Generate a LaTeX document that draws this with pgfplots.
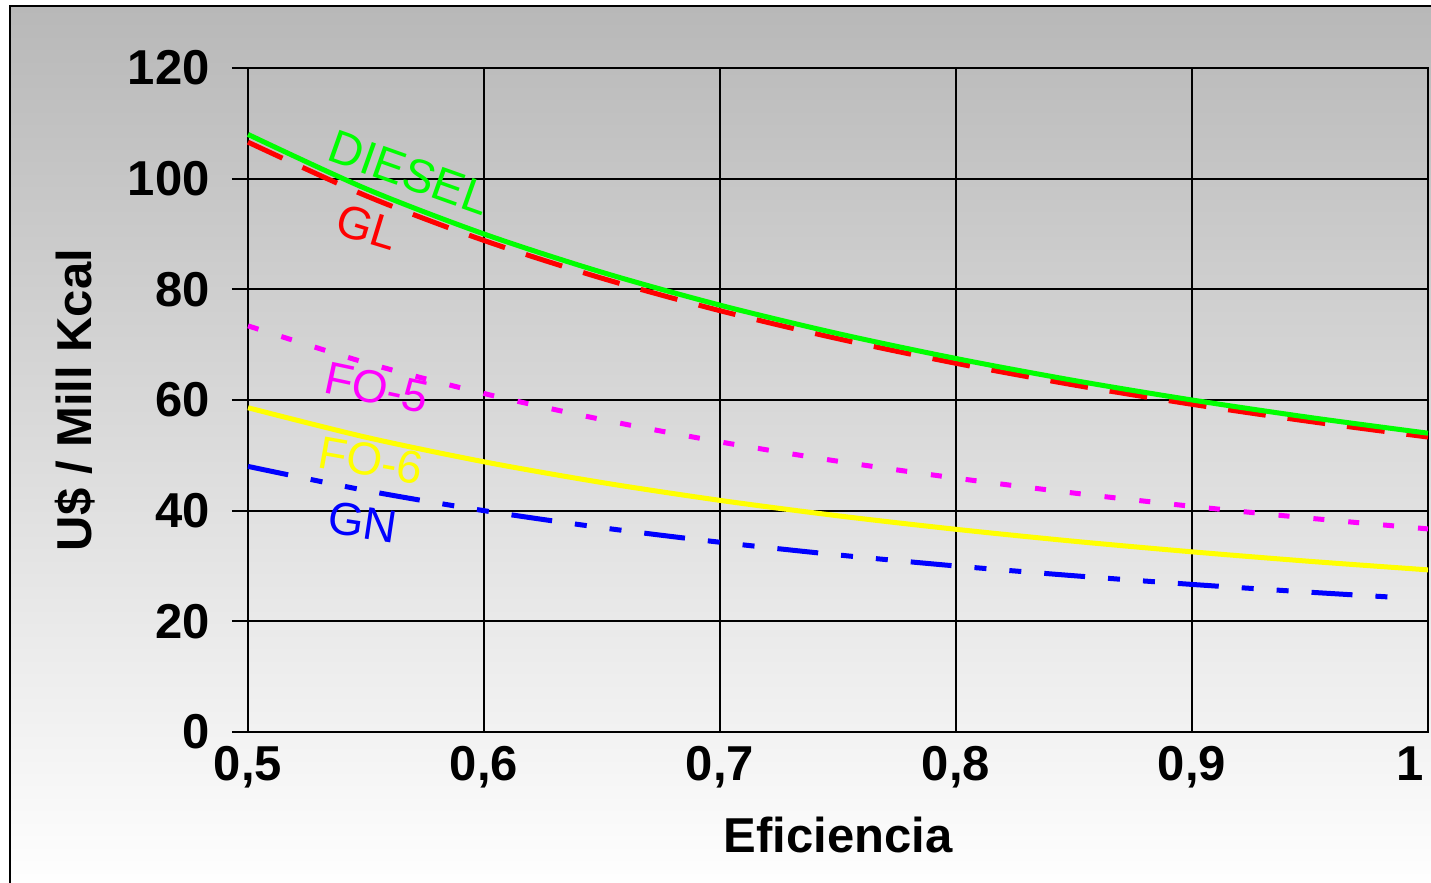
\documentclass[border=0pt]{standalone}
\usepackage{pgfplots}
\pgfplotsset{compat=1.18}
\usepackage{fontspec}
\setmainfont{Liberation Sans}
\definecolor{bgtop}{RGB}{184,184,184}
\definecolor{cgreen}{RGB}{0,255,0}
\definecolor{cred}{RGB}{255,0,0}
\definecolor{cmag}{RGB}{255,0,255}
\definecolor{cyel}{RGB}{255,255,0}
\definecolor{cblue}{RGB}{0,0,255}
\begin{document}
\begin{tikzpicture}
\useasboundingbox (-124pt,-75.5pt) rectangle (591.5pt,366pt);
\begin{scope}
\clip (-124pt,-75.5pt) rectangle (591.5pt,366pt);
\shade[top color=bgtop, bottom color=white] (-119pt,-80pt) rectangle (597pt,363pt);
\draw[black, line width=1pt] (-119pt,-80pt) -- (-119pt,363pt) -- (597pt,363pt);
\end{scope}
\begin{axis}[
  at={(0,0)}, anchor=south west,
  scale only axis, width=590pt, height=332pt,
  xmin=0.5, xmax=1, ymin=0, ymax=120,
  xtick={0.5,0.6,0.7,0.8,0.9}, ytick={0,20,40,60,80,100,120},
  extra x ticks={1}, extra x tick labels={1},
  extra x tick style={xticklabel style={xshift=-9pt}},
  xtick pos=bottom, ytick pos=left,
  tick align=outside, major tick length=8pt,
  xtick style={draw=none},
  ytick style={black, line width=1pt},
  grid=major, major grid style={black, line width=1pt},
  axis line style={black, line width=1.2pt},
  /pgf/number format/assume math mode=true,
  /pgf/number format/use comma,
  ticklabel style={font=\bfseries\fontsize{24.5}{29}\selectfont, inner sep=0pt},
  yticklabel style={anchor=east, xshift=-11pt},
  xticklabel style={anchor=north, yshift=1pt},
  xlabel={Eficiencia}, ylabel={U\$ / Mill Kcal},
  label style={font=\bfseries\fontsize{24.5}{29}\selectfont, inner sep=0pt},
  xlabel style={at={(axis description cs:0.5,0)}, anchor=base, yshift=-60.5pt},
  ylabel style={at={(axis description cs:-0.1322,0.5)}, anchor=base},
  clip=false,
]
\addplot[cred, line width=2.5pt, smooth, dash pattern=on 19pt off 11pt] coordinates {
(0.50,106.60) (0.55,96.91) (0.60,88.83) (0.65,82.00) (0.70,76.14) (0.75,71.07)
(0.80,66.63) (0.85,62.71) (0.90,59.22) (0.95,56.11) (1.00,53.30)};
\addplot[cgreen, line width=2.5pt, smooth] coordinates {
(0.50,108.00) (0.55,98.18) (0.60,90.00) (0.65,83.08) (0.70,77.14) (0.75,72.00)
(0.80,67.50) (0.85,63.53) (0.90,60.00) (0.95,56.84) (1.00,54.00)};
\addplot[cmag, line width=2.5pt, smooth, dash pattern=on 5.5pt off 12pt] coordinates {
(0.50,73.40) (0.55,66.73) (0.60,61.17) (0.65,56.46) (0.70,52.43) (0.75,48.93)
(0.80,45.88) (0.85,43.18) (0.90,40.78) (0.95,38.63) (1.00,36.70)};
\addplot[cyel, line width=2.5pt, smooth] coordinates {
(0.50,58.60) (0.55,53.27) (0.60,48.83) (0.65,45.08) (0.70,41.86) (0.75,39.07)
(0.80,36.63) (0.85,34.47) (0.90,32.56) (0.95,30.84) (1.00,29.30)};
\addplot[cblue, line width=2.5pt, smooth, dash pattern=on 20.5pt off 11.5pt on 6pt off 11.5pt on 6pt off 11.5pt] coordinates {
(0.50,48.00) (0.55,43.64) (0.60,40.00) (0.65,36.92) (0.70,34.29) (0.75,32.00)
(0.80,30.00) (0.85,28.24) (0.90,26.67) (0.95,25.26) (0.99,24.24)};
\node[cgreen, anchor=base west, inner sep=0pt, rotate=-19.5, font=\fontsize{23.5}{28}\selectfont] at (axis cs:0.5326,103.4) {DIESEL};
\node[cred, anchor=base west, inner sep=0pt, rotate=-17, font=\fontsize{23}{28}\selectfont] at (axis cs:0.536,90.2) {GL};
\node[cmag, anchor=base west, inner sep=0pt, rotate=-12, font=\fontsize{23}{28}\selectfont] at (axis cs:0.5314,61.4) {FO-5};
\node[cyel, anchor=base west, inner sep=0pt, rotate=-10, font=\fontsize{23}{28}\selectfont] at (axis cs:0.5288,47.9) {FO-6};
\node[cblue, anchor=base west, inner sep=0pt, rotate=-8.5, font=\fontsize{23}{28}\selectfont] at (axis cs:0.533,36.0) {GN};
\end{axis}
\end{tikzpicture}
\end{document}
